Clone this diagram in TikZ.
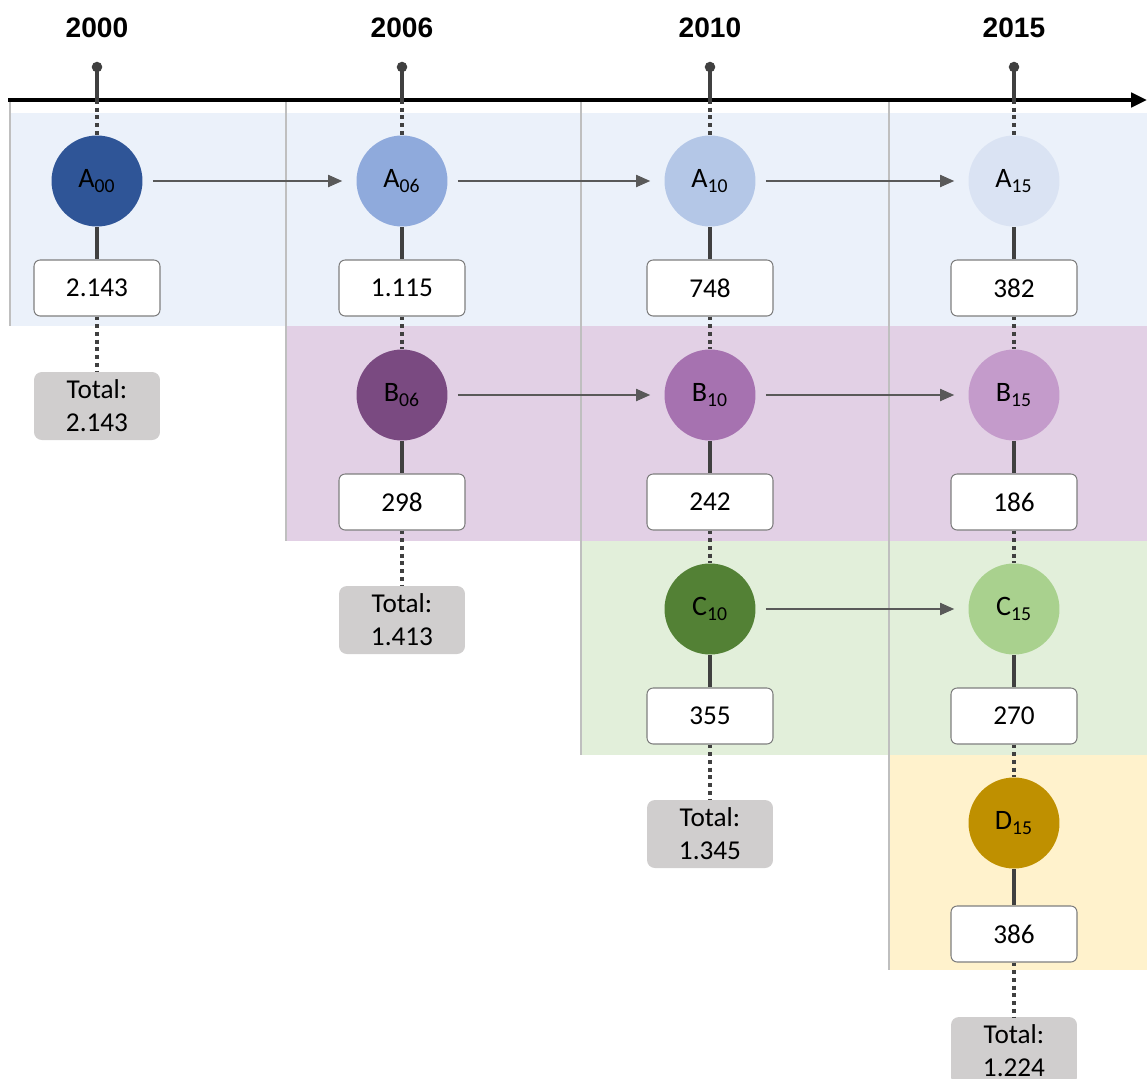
\documentclass[tikz,border=0pt]{standalone}
\usepackage{fontspec}
\setmainfont{Carlito}
\newfontfamily\yearfont{Liberation Sans}
\usetikzlibrary{arrows.meta}

\definecolor{aband}{HTML}{EBF1FA}
\definecolor{bband}{HTML}{E2D0E5}
\definecolor{cband}{HTML}{E2EFDA}
\definecolor{dband}{HTML}{FFF2CC}
\definecolor{acol00}{HTML}{2F5597}
\definecolor{acol06}{HTML}{8FAADC}
\definecolor{acol10}{HTML}{B4C7E7}
\definecolor{acol15}{HTML}{DAE3F3}
\definecolor{bcol06}{HTML}{7A4A81}
\definecolor{bcol10}{HTML}{A672B0}
\definecolor{bcol15}{HTML}{C49BCB}
\definecolor{ccol10}{HTML}{538135}
\definecolor{ccol15}{HTML}{A9D18E}
\definecolor{dcol15}{HTML}{BF9000}
\definecolor{stemgray}{HTML}{404040}
\definecolor{flowgray}{HTML}{595959}
\definecolor{divgray}{HTML}{BFBFBF}
\definecolor{boxgray}{HTML}{7F7F7F}
\definecolor{totgray}{HTML}{D0CECE}

\begin{document}
\begin{tikzpicture}[x=0.02cm, y=-0.02cm,
    circ/.style={circle, minimum size=1.82cm, inner sep=0pt, font=\fontsize{16}{19}\selectfont},
    valbox/.style={draw=boxgray, fill=white, line width=0.6pt, rounded corners=3.5pt,
        minimum width=2.52cm, minimum height=1.12cm, inner sep=0pt, font=\fontsize{15.5}{18}\selectfont},
    totalbox/.style={fill=totgray, rounded corners=4.5pt, minimum width=2.52cm, minimum height=1.36cm,
        inner sep=0pt, align=center, font=\fontsize{15.5}{18.7}\selectfont},
    year/.style={font=\yearfont\bfseries\fontsize{16}{19}\selectfont},
    stem/.style={draw=stemgray, line width=2.2pt},
    dots/.style={draw=stemgray, line width=2.3pt, dash pattern=on 2.2pt off 2.2pt},
    flow/.style={draw=flowgray, line width=0.6pt, -{Triangle[length=8pt,width=7pt]},
        shorten <=0.2cm, shorten >=0.28cm},
    divider/.style={draw=divgray, line width=0.8pt}
]
    \useasboundingbox (0,0) rectangle (1147,1079);

    % -------------------------
    % Bands
    % -------------------------
    \fill[aband] (10,113) rectangle (1147,326);
    \fill[bband] (286,326) rectangle (1147,541);
    \fill[cband] (581,541) rectangle (1147,755);
    \fill[dband] (889,755) rectangle (1147,970);

    \draw[divider] (10,100) -- (10,326);
    \draw[divider] (286,100) -- (286,541);
    \draw[divider] (581,100) -- (581,755);
    \draw[divider] (889,100) -- (889,970);

    % -------------------------
    % Timeline and years
    % -------------------------
    \draw[line width=2.3pt, -{Triangle[length=9pt,width=8pt]}] (8,100) -- (1147,100);

    \foreach \x/\yr in {97/2000, 402/2006, 710/2010, 1014/2015} {
        \node[year] (y\yr) at (\x,28) {\yr};
        \coordinate (p\yr) at (\x,67);
        \coordinate (t\yr) at (\x,100);
        \fill[stemgray] (p\yr) circle (3pt);
        \draw[stem] (p\yr) -- (t\yr);
    }

    % -------------------------
    % Row A
    % -------------------------
    \node[circ, fill=acol00] (a00) at (97,181) {A\textsubscript{00}};
    \node[circ, fill=acol06] (a06) at (402,181) {A\textsubscript{06}};
    \node[circ, fill=acol10] (a10) at (710,181) {A\textsubscript{10}};
    \node[circ, fill=acol15] (a15) at (1014,181) {A\textsubscript{15}};

    \node[valbox] (va00) at (97,288) {2.143};
    \node[valbox] (va06) at (402,288) {1.115};
    \node[valbox] (va10) at (710,288) {748};
    \node[valbox] (va15) at (1014,288) {382};

    % -------------------------
    % Row B
    % -------------------------
    \node[circ, fill=bcol06] (b06) at (402,395) {B\textsubscript{06}};
    \node[circ, fill=bcol10] (b10) at (710,395) {B\textsubscript{10}};
    \node[circ, fill=bcol15] (b15) at (1014,395) {B\textsubscript{15}};

    \node[valbox] (vb06) at (402,502) {298};
    \node[valbox] (vb10) at (710,502) {242};
    \node[valbox] (vb15) at (1014,502) {186};

    % -------------------------
    % Row C
    % -------------------------
    \node[circ, fill=ccol10] (c10) at (710,609) {C\textsubscript{10}};
    \node[circ, fill=ccol15] (c15) at (1014,609) {C\textsubscript{15}};

    \node[valbox] (vc10) at (710,716) {355};
    \node[valbox] (vc15) at (1014,716) {270};

    % -------------------------
    % Row D
    % -------------------------
    \node[circ, fill=dcol15] (d15) at (1014,823) {D\textsubscript{15}};
    \node[valbox] (vd15) at (1014,934) {386};

    % -------------------------
    % Totals
    % -------------------------
    \node[totalbox] (tot00) at (97,406) {Total:\\2.143};
    \node[totalbox] (tot06) at (402,620) {Total:\\1.413};
    \node[totalbox] (tot10) at (710,834) {Total:\\1.345};
    \node[totalbox] (tot15) at (1014,1051) {Total:\\1.224};

    % -------------------------
    % Vertical connectors
    % -------------------------
    % 2000
    \draw[dots] (t2000) -- (a00);
    \draw[stem] (a00) -- (va00);
    \draw[dots] (va00) -- (tot00);
    % 2006
    \draw[dots] (t2006) -- (a06);
    \draw[stem] (a06) -- (va06);
    \draw[dots] (va06) -- (b06);
    \draw[stem] (b06) -- (vb06);
    \draw[dots] (vb06) -- (tot06);
    % 2010
    \draw[dots] (t2010) -- (a10);
    \draw[stem] (a10) -- (va10);
    \draw[dots] (va10) -- (b10);
    \draw[stem] (b10) -- (vb10);
    \draw[dots] (vb10) -- (c10);
    \draw[stem] (c10) -- (vc10);
    \draw[dots] (vc10) -- (tot10);
    % 2015
    \draw[dots] (t2015) -- (a15);
    \draw[stem] (a15) -- (va15);
    \draw[dots] (va15) -- (b15);
    \draw[stem] (b15) -- (vb15);
    \draw[dots] (vb15) -- (c15);
    \draw[stem] (c15) -- (vc15);
    \draw[dots] (vc15) -- (d15);
    \draw[stem] (d15) -- (vd15);
    \draw[dots] (vd15) -- (tot15);

    % -------------------------
    % Horizontal arrows
    % -------------------------
    \draw[flow] (a00) -- (a06);
    \draw[flow] (a06) -- (a10);
    \draw[flow] (a10) -- (a15);
    \draw[flow] (b06) -- (b10);
    \draw[flow] (b10) -- (b15);
    \draw[flow] (c10) -- (c15);

\end{tikzpicture}
\end{document}
